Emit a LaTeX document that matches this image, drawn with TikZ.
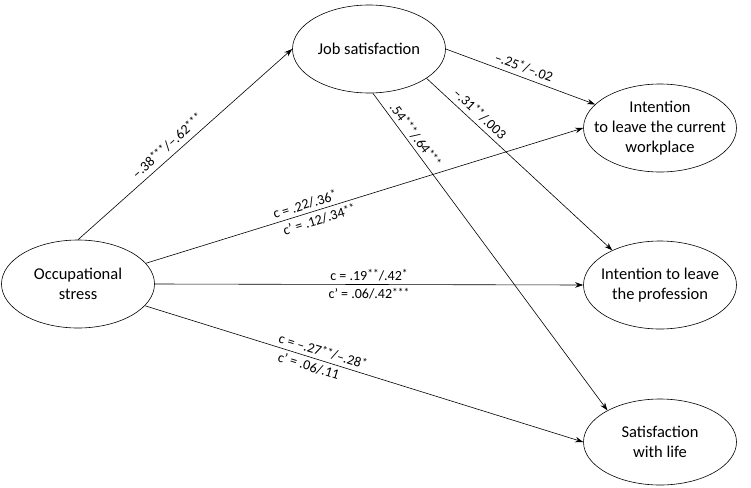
\documentclass[tikz,border=0pt]{standalone}
\usepackage{fontspec}
\setmainfont{Carlito}
\usetikzlibrary{arrows.meta,shapes.geometric}
\newcommand\sig[1]{\raisebox{0.35ex}{\fontsize{11.5}{12}\selectfont #1}}
\begin{document}
\begin{tikzpicture}[x=1pt,y=-1pt,
  var/.style={draw, ellipse, minimum width=153pt, minimum height=88pt, inner sep=0pt, line width=0.6pt},
  txt/.style={align=center, font=\fontsize{16.5}{20}\selectfont, inner sep=0pt},
  lab/.style={font=\fontsize{14}{16}\selectfont, sloped, inner sep=3.5pt},
  arr/.style={-{Stealth[length=8pt,width=5.5pt]}, line width=0.6pt}]
\useasboundingbox (0,0) rectangle (751,487);
% ellipses
\node[var] (job) at (369,49) {};
\node[var] (occ) at (78,284) {};
\node[var] (cur) at (660,128) {};
\node[var] (prof) at (660,285) {};
\node[var, minimum height=86pt] (life) at (660,442) {};
% texts
\node[txt] (jobT) at (job) {Job satisfaction};
\node[txt] (occT) at (occ) {Occupational\\stress};
\node[txt] (curT) at (cur) {Intention\\to leave the current\\workplace};
\node[txt] (profT) at (prof) {Intention to leave\\the profession};
\node[txt] (lifeT) at (life) {Satisfaction\\with life};
% connectors
\draw[arr] (occ.north) -- node[lab, above, pos=0.45, inner sep=5pt] {–.38\sig{***}/–.62\sig{***}} (job.west);
\draw[arr] (job.east) -- node[lab, above, pos=0.5, inner sep=4.5pt] {–.25\sig{*}/–.02} (cur.160);
\draw[arr] (job.-27) -- node[lab, above, pos=0.25, inner sep=4.5pt] {–.31\sig{**}/.003} (prof.144);
\draw[arr] (job.-85) -- node[lab, above, pos=0.15] {.54\sig{***}/.64\sig{***}} (life.149);
\draw[arr] (occ.17) -- node[lab, above, pos=0.37] {c = .22/.36\sig{*}} node[lab, below, pos=0.39] {c’ = .12/.34\sig{**}} (cur.west);
\draw[arr] (occ.east) -- node[lab, above] {c = .19\sig{**}/.42\sig{*}} node[lab, below] {c’ = .06/.42\sig{***}} (prof.west);
\draw[arr] (occ.-18) -- node[lab, above, pos=0.4] {c = –.27\sig{**}/–.28\sig{*}} node[lab, below, pos=0.38] {c’ = .06/.11} (life.west);
\end{tikzpicture}
\end{document}
